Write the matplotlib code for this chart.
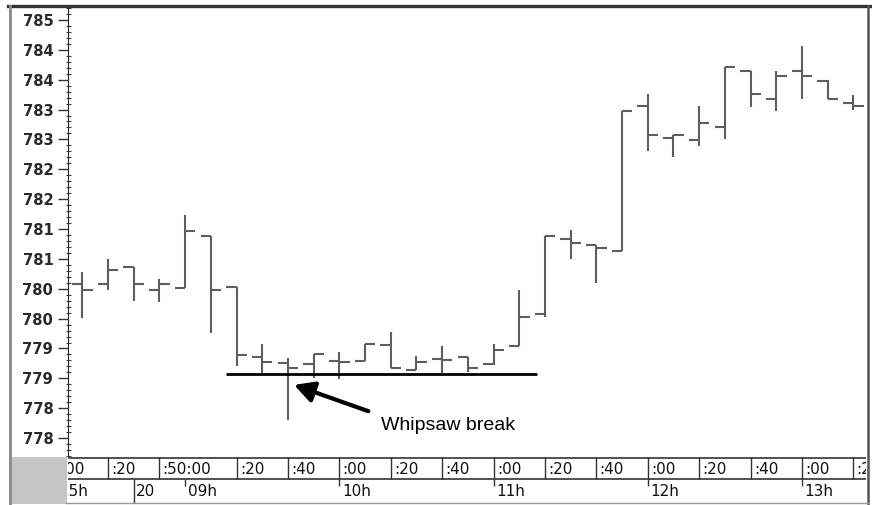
import numpy as np
import matplotlib
matplotlib.use('Agg')
import matplotlib.pyplot as plt
from matplotlib.lines import Line2D
from matplotlib.patches import Rectangle
from matplotlib.ticker import FixedLocator, MultipleLocator

W, H = 872, 505

# 10 minute OHLC bars
opens = [780.58, 780.58, 780.87, 780.48, 780.52, 781.38, 780.53, 779.35, 779.25, 779.24,
         779.29, 779.29, 779.56, 779.14, 779.32, 779.36, 779.24, 779.54, 780.08, 781.33,
         781.23, 781.13, 783.56, 783.03, 782.99, 783.20, 784.15, 783.67, 784.15, 783.97,
         783.61]
highs = [780.78, 780.99, 780.87, 780.67, 781.73, 781.38, 780.53, 779.57, 779.34, 779.40,
         779.44, 779.57, 779.78, 779.37, 779.54, 779.36, 779.57, 780.48, 781.39, 781.48,
         781.23, 783.48, 783.76, 783.07, 783.56, 784.21, 784.15, 784.15, 784.57, 783.99,
         783.74]
lows = [780.01, 780.48, 780.29, 780.28, 780.52, 779.76, 779.21, 779.08, 778.31, 779.00,
        778.99, 779.29, 779.18, 779.14, 779.09, 779.11, 779.22, 779.54, 780.03, 780.99,
        780.60, 781.13, 782.81, 782.70, 782.89, 783.00, 783.54, 783.48, 783.68, 783.67,
        783.49]
closes = [780.48, 780.81, 780.58, 780.58, 781.47, 780.48, 779.39, 779.28, 779.18, 779.40,
          779.27, 779.57, 779.18, 779.28, 779.30, 779.18, 779.48, 780.03, 781.39, 781.27,
          781.19, 783.48, 783.07, 783.07, 783.27, 784.21, 783.76, 784.06, 784.06, 783.67,
          783.56]

ytick_values = [785.0, 784.5, 784.0, 783.5, 783.0, 782.5, 782.0, 781.5, 781.0,
                780.5, 780.0, 779.5, 779.0, 778.5, 778.0]
ytick_labels = ['785', '784', '784', '783', '783', '782', '782', '781', '781',
                '780', '780', '779', '779', '778', '778']

# time scale (bar index of each label)
time_pos = [-1, 1, 3, 6, 8, 10, 12, 14, 16, 18, 20, 22, 24, 26, 28, 30]
time_labels = [':00', ':20', ':50:00', ':20', ':40', ':00', ':20', ':40',
               ':00', ':20', ':40', ':00', ':20', ':40', ':00', ':20']
hour_pos = [-1, 2, 4, 10, 16, 22, 28]
hour_labels = ['15h', '20', '09h', '10h', '11h', '12h', '13h']
day_break = [2]

support_level = 779.07
support_from, support_to = 5.6, 17.7
arrow_tip = (8.24, 778.89)
arrow_tail = (11.13, 778.45)
note_xy = (11.62, 778.14)


def fx(x):
    return x / W


def fy(y):
    return 1 - y / H


fig = plt.figure(figsize=(W / 100, H / 100), dpi=100)

# price pane
ax = fig.add_axes([fx(68), fy(456), fx(866) - fx(68), fy(8) - fy(456)])
x = np.arange(len(opens))
bar_col = '#5e5e5e'
ax.vlines(x, lows, highs, color=bar_col, lw=1.5)
ax.hlines(opens, x - 0.4, x, color=bar_col, lw=1.5)
ax.hlines(closes, x, x + 0.4, color=bar_col, lw=1.5)

ax.hlines(support_level, support_from, support_to, color='black', lw=2)
ax.annotate('', xy=arrow_tip, xytext=arrow_tail,
            arrowprops=dict(arrowstyle='-|>,head_length=0.6,head_width=0.32',
                            lw=3, color='black', mutation_scale=20,
                            shrinkA=0, shrinkB=0))
ax.text(note_xy[0], note_xy[1], 'Whipsaw break', fontsize=14,
        family='Liberation Sans', va='baseline', ha='left')

ax.set_xlim(-0.556, 30.49)
ax.set_ylim(777.70, 785.20)
ax.yaxis.set_major_locator(FixedLocator(ytick_values))
ax.set_yticklabels(ytick_labels)
ax.yaxis.set_minor_locator(MultipleLocator(0.1))
ax.tick_params(axis='y', which='major', direction='out', length=7, width=1,
               color='#333333', pad=3.6, labelsize=10.6, labelcolor='#2a2a2a')
ax.tick_params(axis='y', which='minor', direction='inout', length=3.6,
               width=0.8, color='#444444')
for t in ax.get_yticklabels():
    t.set_fontweight('bold')
ax.set_xticks([])
for s in ['top', 'right', 'bottom']:
    ax.spines[s].set_visible(False)
ax.spines['left'].set_color('#222222')

# time scale rows
ax2 = fig.add_axes([fx(68), fy(503), fx(866) - fx(68), fy(457) - fy(503)])
ax2.set_xlim(ax.get_xlim())
ax2.set_ylim(503, 457)
ax2.axis('off')
ax2.axhline(457.5, color='#333333', lw=1.2)
ax2.axhline(479, color='#333333', lw=1.2)
for p, lab in zip(time_pos, time_labels):
    ax2.vlines(p, 457, 479, color='#333333', lw=1)
    ax2.text(p + 0.13, 469, lab, fontsize=11, va='center', ha='left',
             color='#111111', clip_on=True)
for p, lab in zip(hour_pos, hour_labels):
    end = 503 if p in day_break else 486
    ax2.vlines(p, 479, end, color='#333333', lw=1)
    ax2.text(p + 0.1, 492, lab, fontsize=11, va='center', ha='left',
             color='#111111', clip_on=True)

# outer frame
fig.add_artist(Rectangle((fx(9), fy(504)), fx(58) - fx(0), fy(457) - fy(504),
                         transform=fig.transFigure, facecolor='#c6c6c6',
                         edgecolor='none'))
fig.add_artist(Line2D([fx(8), fx(870)], [fy(6), fy(6)], transform=fig.transFigure,
                      color='#333333', lw=2.4))
fig.add_artist(Line2D([fx(10), fx(10)], [fy(6), fy(504)], transform=fig.transFigure,
                      color='#8a8a8a', lw=2))
fig.add_artist(Line2D([fx(868), fx(868)], [fy(6), fy(504)], transform=fig.transFigure,
                      color='#555555', lw=1.8))
fig.add_artist(Line2D([fx(66), fx(868)], [fy(503), fy(503)], transform=fig.transFigure,
                      color='#999999', lw=1))

fig.savefig('out.png', dpi=100)
